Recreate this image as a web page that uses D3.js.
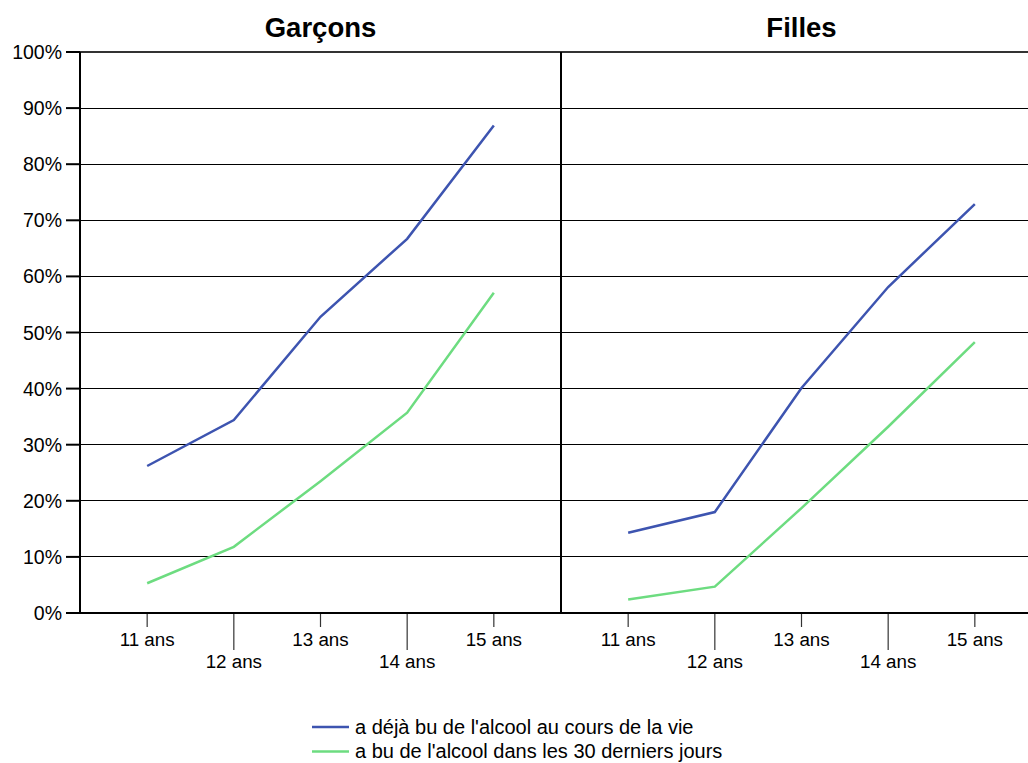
<!DOCTYPE html>
<html>
<head>
<meta charset="utf-8">
<script src="https://cdn.jsdelivr.net/npm/d3@7"></script>
<style>
  body { margin: 0; background: #fff; }
  svg { display: block; font-family: "Liberation Sans", Arial, sans-serif; }
</style>
</head>
<body>
<div id="chart"></div>
<script>
// ---- données ----
const ages = ['11 ans', '12 ans', '13 ans', '14 ans', '15 ans'];
const panels = ['Garçons', 'Filles'];
const seriesNames = ["a déjà bu de l'alcool au cours de la vie", "a bu de l'alcool dans les 30 derniers jours"];
const garconsVie = [26.2, 34.4, 52.8, 66.7, 86.9];
const garcons30j = [5.3, 11.8, 23.5, 35.7, 57.1];
const fillesVie = [14.3, 18.0, 40.1, 58.1, 72.9];
const filles30j = [2.4, 4.7, 18.7, 33.2, 48.3];
const yTicks = [0, 10, 20, 30, 40, 50, 60, 70, 80, 90, 100];
const colors = ['#3d54b0', '#6ddc80'];

const panelData = [
  [garconsVie, garcons30j],
  [fillesVie, filles30j]
];

const W = 1028, H = 763;
const plotLeft = 80, plotTop = 52, plotBottom = 613, panelW = 481;

const svg = d3.select('#chart').append('svg')
  .attr('width', W).attr('height', H);

const y = d3.scaleLinear().domain([0, 100]).range([plotBottom, plotTop]);

// grille
svg.append('g')
  .selectAll('line')
  .data(yTicks.filter(d => d > 0))
  .join('line')
  .attr('x1', plotLeft).attr('x2', W)
  .attr('y1', d => y(d)).attr('y2', d => y(d))
  .attr('stroke', d => d === 100 ? '#333' : '#000')
  .attr('stroke-width', d => d === 100 ? 2 : 1)
  .attr('shape-rendering', 'crispEdges');

// axe y
const yAxis = svg.append('g');
yAxis.selectAll('line')
  .data(yTicks)
  .join('line')
  .attr('x1', 66).attr('x2', plotLeft)
  .attr('y1', d => y(d)).attr('y2', d => y(d))
  .attr('stroke', '#000').attr('stroke-width', 2);
yAxis.selectAll('text')
  .data(yTicks)
  .join('text')
  .attr('x', 62).attr('y', d => y(d))
  .attr('dy', '0.36em')
  .attr('text-anchor', 'end')
  .attr('font-size', 19.5)
  .attr('fill', '#000')
  .text(d => d + '%');

panels.forEach((name, p) => {
  const x0 = plotLeft + p * panelW;
  const x = d3.scalePoint().domain(ages).range([x0, x0 + panelW]).padding(0.775);

  // titre
  svg.append('text')
    .attr('x', x0 + panelW / 2).attr('y', 37)
    .attr('text-anchor', 'middle')
    .attr('font-size', 27.5).attr('font-weight', 'bold')
    .text(name);

  // ticks x
  const g = svg.append('g');
  g.selectAll('line')
    .data(ages)
    .join('line')
    .attr('x1', d => x(d)).attr('x2', d => x(d))
    .attr('y1', plotBottom).attr('y2', (d, i) => i % 2 ? plotBottom + 37 : plotBottom + 14)
    .attr('stroke', '#333').attr('stroke-width', 1.2);
  g.selectAll('text')
    .data(ages)
    .join('text')
    .attr('x', d => x(d))
    .attr('y', (d, i) => i % 2 ? 668 : 646)
    .attr('text-anchor', 'middle')
    .attr('font-size', 18.8)
    .text(d => d);

  // courbes
  const line = d3.line().x((d, i) => x(ages[i])).y(d => y(d));
  panelData[p].forEach((vals, s) => {
    svg.append('path')
      .attr('d', line(vals))
      .attr('fill', 'none')
      .attr('stroke', colors[s])
      .attr('stroke-width', 2.5);
  });
});

// axes
svg.append('line')
  .attr('x1', plotLeft).attr('x2', plotLeft).attr('y1', plotTop).attr('y2', plotBottom)
  .attr('stroke', '#000').attr('stroke-width', 2);
svg.append('line')
  .attr('x1', plotLeft + panelW).attr('x2', plotLeft + panelW).attr('y1', plotTop).attr('y2', plotBottom)
  .attr('stroke', '#000').attr('stroke-width', 2);
svg.append('line')
  .attr('x1', plotLeft).attr('x2', W).attr('y1', plotBottom).attr('y2', plotBottom)
  .attr('stroke', '#000').attr('stroke-width', 2);

// légende
const legend = svg.append('g');
seriesNames.forEach((n, i) => {
  const ly = 727 + i * 24.5;
  legend.append('line')
    .attr('x1', 312).attr('x2', 349).attr('y1', ly).attr('y2', ly)
    .attr('stroke', colors[i]).attr('stroke-width', 2.5);
  legend.append('text')
    .attr('x', 355).attr('y', ly + 6.5)
    .attr('font-size', 20)
    .text(n);
});
</script>
</body>
</html>
